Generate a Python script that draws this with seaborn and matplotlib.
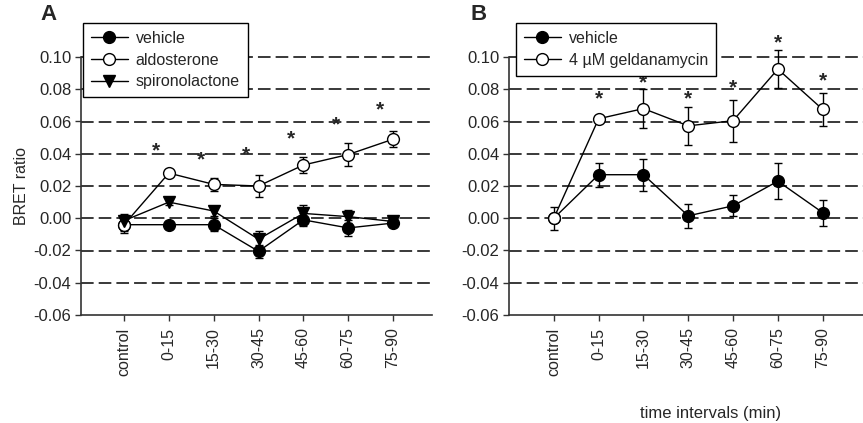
import matplotlib
matplotlib.use("Agg")
import matplotlib.pyplot as plt
import numpy as np
import pandas as pd
import seaborn as sns

intervals = ["control", "0-15", "15-30", "30-45", "45-60", "60-75", "75-90"]

# panel A
veh_a = [-0.004, -0.004, -0.004, -0.0205, -0.001, -0.006, -0.003]
veh_a_err = [0.004, 0.0, 0.004, 0.004, 0.004, 0.005, 0.002]
aldo = [-0.004, 0.028, 0.021, 0.020, 0.033, 0.0395, 0.049]
aldo_err = [0.005, 0.002, 0.004, 0.007, 0.005, 0.007, 0.005]
spiro = [-0.0015, 0.010, 0.0045, -0.013, 0.003, 0.001, -0.002]
spiro_err = [0.004, 0.002, 0.003, 0.005, 0.005, 0.004, 0.002]
stars_a = [None, 0.042, 0.036, 0.039, 0.049, 0.058, 0.067]

# panel B
veh_b = [0.0, 0.027, 0.027, 0.0015, 0.0077, 0.023, 0.0035]
veh_b_err = [0.0, 0.0075, 0.010, 0.0075, 0.0065, 0.011, 0.008]
gelda = [0.0, 0.0617, 0.068, 0.0573, 0.0605, 0.0925, 0.0675]
gelda_err = [0.007, 0.001, 0.012, 0.012, 0.013, 0.012, 0.010]
stars_b = [None, 0.074, 0.084, 0.074, 0.081, 0.109, 0.085]

sns.set_style("ticks")
plt.rcParams["font.family"] = ["Liberation Sans", "DejaVu Sans"]

fig = plt.figure(figsize=(8.63, 4.23), dpi=100)
ax_a = fig.add_axes([81 / 863, 1 - 315 / 423, 351 / 863, 258 / 423])
ax_b = fig.add_axes([509 / 863, 1 - 315 / 423, 354 / 863, 258 / 423])

pos = np.arange(len(intervals))


def draw_series(ax, vals, errs, label, marker, face):
    df = pd.DataFrame({"x": pos, "y": vals})
    ax.errorbar(pos, vals, yerr=errs, fmt="none", ecolor="black",
                elinewidth=1, capsize=3, capthick=1, zorder=3, clip_on=False)
    sns.lineplot(data=df, x="x", y="y", ax=ax, color="black", linewidth=1,
                 marker=marker, markersize=8.5, markerfacecolor=face,
                 markeredgecolor="black", markeredgewidth=1, label=label,
                 zorder=4, clip_on=False)


def style_axes(ax, xlim):
    for yv in np.arange(-0.04, 0.101, 0.02):
        ax.axhline(yv, color="#2a2a2a", linewidth=1.3, linestyle=(0, (7, 2.8)),
                   zorder=1, clip_on=False)
    ax.set_ylim(-0.06, 0.10)
    ax.set_xlim(*xlim)
    ax.set_yticks(np.arange(-0.06, 0.101, 0.02))
    ax.set_yticklabels(["%.2f" % v for v in np.arange(-0.06, 0.101, 0.02)])
    ax.set_xticks(pos)
    ax.set_xticklabels(intervals, rotation=90)
    ax.tick_params(axis="y", labelsize=12, length=4, width=1, color="#333333", pad=3)
    ax.tick_params(axis="x", labelsize=11.5, length=4, width=1, color="#333333", pad=5)
    sns.despine(ax=ax)
    for s in ["left", "bottom"]:
        ax.spines[s].set_linewidth(1.2)
        ax.spines[s].set_color("#333333")
    ax.set_xlabel("")
    ax.set_ylabel("")


draw_series(ax_a, veh_a, veh_a_err, "vehicle", "o", "black")
draw_series(ax_a, aldo, aldo_err, "aldosterone", "o", "white")
draw_series(ax_a, spiro, spiro_err, "spironolactone", "v", "black")
style_axes(ax_a, (-0.96, 6.87))

draw_series(ax_b, veh_b, veh_b_err, "vehicle", "o", "black")
draw_series(ax_b, gelda, gelda_err, "4 \u00b5M geldanamycin", "o", "white")
style_axes(ax_b, (-1.0, 6.9))

for i, s in enumerate(stars_a):
    if s is not None:
        ax_a.text(pos[i] - 0.28, s, "*", ha="center", va="center",
                  fontsize=15, fontweight="bold")
for i, s in enumerate(stars_b):
    if s is not None:
        ax_b.text(pos[i], s, "*", ha="center", va="center",
                  fontsize=15, fontweight="bold")

for ax, anchor in [(ax_a, (83 / 863, 1 - 23 / 423)), (ax_b, (516 / 863, 1 - 23 / 423))]:
    leg = ax.legend(loc="upper left", bbox_to_anchor=anchor,
                    bbox_transform=fig.transFigure, borderaxespad=0,
                    fontsize=11.5, handlelength=2.3, labelspacing=0.42,
                    handletextpad=0.5, borderpad=0.5, fancybox=False,
                    framealpha=1)
    leg.get_frame().set_edgecolor("black")
    leg.get_frame().set_linewidth(1)

ax_a.set_ylabel("BRET ratio", fontsize=11.5)
ax_a.yaxis.set_label_coords(-0.148, 0.5)

fig.text(48 / 863, 1 - 15 / 423, "A", fontsize=16, fontweight="bold",
         ha="center", va="center")
fig.text(479 / 863, 1 - 15 / 423, "B", fontsize=16, fontweight="bold",
         ha="center", va="center")
fig.text(711 / 863, 1 - 413 / 423, "time intervals (min)", fontsize=12,
         ha="center", va="center")

fig.savefig("out.png", dpi=100)
